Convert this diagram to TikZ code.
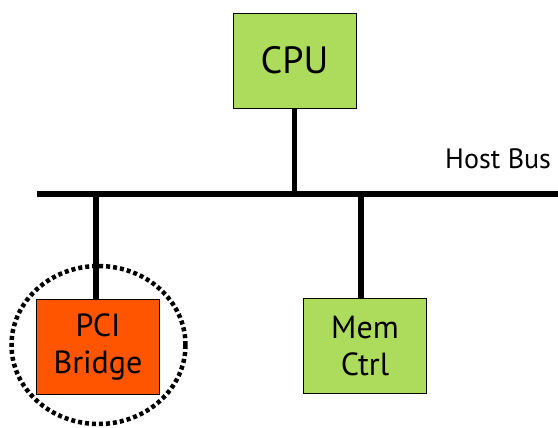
\documentclass[tikz,border=0pt]{standalone}
\usepackage{fontspec}
\setmainfont{PT Sans}
\definecolor{boxgreen}{HTML}{ADDC5C}
\definecolor{boxorange}{HTML}{FF5500}

\begin{document}
\begin{tikzpicture}[x=1pt,y=-1pt,
  unit/.style={draw=black, line width=0.8pt, minimum width=123pt, minimum height=95pt,
    inner sep=0pt, align=center, font=\fontsize{32}{37}\selectfont},
  wire/.style={line width=5.5pt},
  ring/.style={line width=4.5pt, dash pattern=on 4pt off 3pt}]

\useasboundingbox (0,0) rectangle (558,428);

% Boxes
\node[unit, fill=boxgreen, font=\fontsize{38}{40}\selectfont] (cpu) at (294.5,60.5) {CPU};
\node[unit, fill=boxorange] (pci) at (98,346.5) {PCI\\Bridge};
\node[unit, fill=boxgreen] (mem) at (365,346) {Mem\\Ctrl};

% Draw the host bus
\coordinate (busL) at (37,194);
\coordinate (busR) at (558,194);
\draw[wire] (busL) -- (busR);
\node[anchor=base west, font=\fontsize{28}{30}\selectfont, inner sep=0pt] (hostbus) at (445,168) {Host Bus};

% Taps onto the bus
\draw[wire] (cpu.south) -- (cpu.south |- busL);
\draw[wire] ([xshift=-2pt]pci.north) -- ([xshift=-2pt]pci.north |- busL);
\draw[wire] ([xshift=-4pt]mem.north) -- ([xshift=-4pt]mem.north |- busL);

% Dotted ring round the bridge
\draw[ring] (98.5,345) ellipse [x radius=87, y radius=79];

\end{tikzpicture}
\end{document}
